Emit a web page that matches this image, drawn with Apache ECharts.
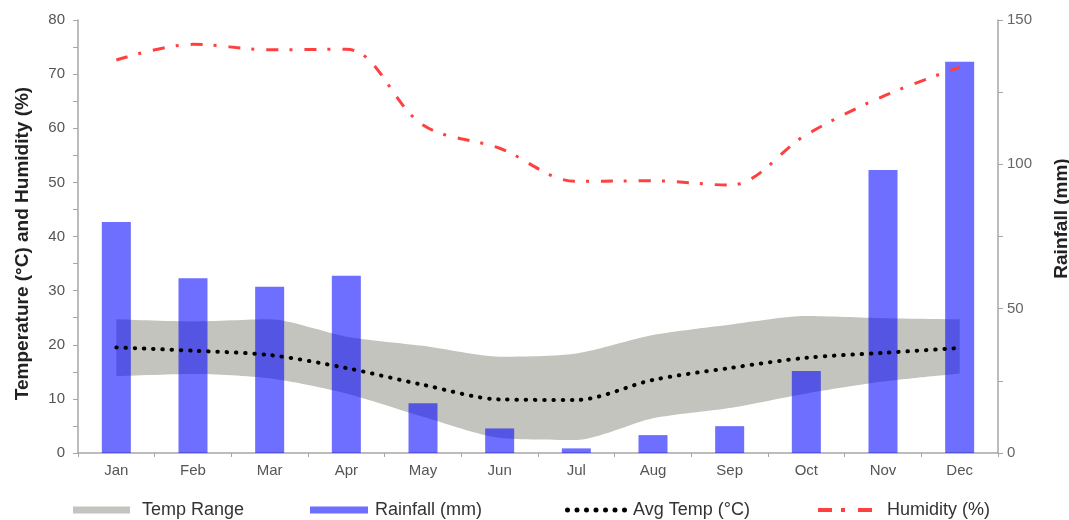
<!DOCTYPE html>
<html><head><meta charset="utf-8">
<script src="https://cdn.jsdelivr.net/npm/echarts@6/dist/echarts.min.js"></script>
<style>html,body{margin:0;padding:0;background:#fff}#c{width:1069px;height:520px}</style>
</head><body><div id="c"></div>
<script>
const months = ['Jan','Feb','Mar','Apr','May','Jun','Jul','Aug','Sep','Oct','Nov','Dec'];
const rainfall = [80, 60.5, 57.6, 61.4, 17.2, 8.5, 1.6, 6.2, 9.3, 28.4, 98, 135.5];
const tempMax = [24.7, 24.3, 24.7, 21.5, 19.8, 17.8, 18.4, 21.8, 23.7, 25.3, 24.9, 24.7];
const tempMin = [14.2, 14.6, 13.8, 11.0, 6.7, 2.8, 2.4, 6.4, 8.3, 11.0, 13.2, 14.7];
const avgTemp = [19.5, 18.9, 18.1, 15.7, 12.6, 9.9, 9.8, 13.5, 15.7, 17.6, 18.5, 19.4];
const humidity = [72.6, 75.5, 74.5, 74.6, 60.6, 56.3, 50.2, 50.3, 49.5, 58.8, 65.9, 71.3];

const tempSpan = tempMax.map((v, i) => +(v - tempMin[i]).toFixed(2));

const FONT = 'Liberation Sans, Arial, sans-serif';
const axisGray = '#a6a6a6';
const bandColor = '#c4c4be';
const barColor = 'rgba(5,5,255,0.58)';

// legend icons (dotted line, dash-dot line)
let dotPath = 'path://';
for (let k = 0; k < 7; k++) {
  const x = k * 9.5;
  dotPath += 'M' + x + ',2.5a2.5,2.5 0 1,0 5,0a2.5,2.5 0 1,0 -5,0Z ';
}
const dashDotPath = 'path://M0,0h14v4h-14Z M23,0h4v4h-4Z M40,0h14v4h-14Z';

const chart = echarts.init(document.getElementById('c'), null, {renderer: 'canvas'});

function legendAt(name, left, w, h, textPad, icon, extra) {
  return Object.assign({
    data: [name],
    left: left,
    top: 496,
    itemWidth: w,
    itemHeight: h,
    icon: icon,
    selectedMode: false,
    textStyle: {fontFamily: FONT, fontSize: 18, color: '#333', padding: [0, 0, 0, textPad]}
  }, extra || {});
}

chart.setOption({
  animation: false,
  backgroundColor: '#fff',
  grid: {left: 78, right: 71, top: 20, bottom: 67, containLabel: false, outerBoundsMode: 'none'},
  legend: [
    legendAt('Temp Range', 68, 57, 7, 7, 'rect', {itemStyle: {color: bandColor}}),
    legendAt('Rainfall (mm)', 305, 58, 7, 2, 'rect'),
    legendAt('Avg Temp (°C)', 560, 62, 5, 1, dotPath),
    legendAt('Humidity (%)', 813, 54, 4, 10, dashDotPath)
  ],
  xAxis: {
    type: 'category',
    data: months,
    boundaryGap: true,
    axisLine: {lineStyle: {color: axisGray, width: 1.5}},
    axisTick: {show: true, length: 4, lineStyle: {color: axisGray}},
    axisLabel: {fontFamily: FONT, fontSize: 15, color: '#555', margin: 10}
  },
  yAxis: [
    {
      type: 'value', min: 0, max: 80, interval: 10, position: 'left',
      name: 'Temperature (°C) and Humidity (%)',
      nameLocation: 'middle', nameGap: 46, nameRotate: 90,
      nameTextStyle: {fontFamily: FONT, fontSize: 19, fontWeight: 'bold', color: '#222', padding: [0, 14, 0, 0]},
      axisLine: {show: true, lineStyle: {color: axisGray, width: 1.5}},
      axisTick: {show: true, length: 5, lineStyle: {color: axisGray}},
      minorTick: {show: true, splitNumber: 2, length: 5, lineStyle: {color: axisGray}},
      splitLine: {show: false},
      axisLabel: {fontFamily: FONT, fontSize: 15, color: '#555', margin: 13}
    },
    {
      type: 'value', min: 0, max: 150, interval: 50, position: 'right',
      name: 'Rainfall (mm)',
      nameLocation: 'middle', nameGap: 54, nameRotate: 90,
      nameTextStyle: {fontFamily: FONT, fontSize: 19, fontWeight: 'bold', color: '#222', padding: [0, 0, 0, 36]},
      axisLine: {show: true, lineStyle: {color: axisGray, width: 1.5}},
      axisTick: {show: true, length: 5, lineStyle: {color: axisGray}},
      minorTick: {show: true, splitNumber: 2, length: 5, lineStyle: {color: axisGray}},
      splitLine: {show: false},
      axisLabel: {fontFamily: FONT, fontSize: 15, color: '#666', margin: 9}
    }
  ],
  series: [
    {
      name: 'tempMinBase', type: 'line', stack: 'temp', data: tempMin,
      symbol: 'none', smooth: 0.25, lineStyle: {opacity: 0}, silent: true, z: 1
    },
    {
      name: 'Temp Range', type: 'line', stack: 'temp', data: tempSpan,
      symbol: 'none', smooth: 0.25, color: bandColor,
      lineStyle: {opacity: 0}, areaStyle: {color: bandColor, opacity: 1}, z: 1
    },
    {
      name: 'Rainfall (mm)', type: 'bar', yAxisIndex: 1, data: rainfall,
      barWidth: 29, itemStyle: {color: barColor}, z: 2
    },
    {
      name: 'Avg Temp (°C)', type: 'line', data: avgTemp, symbol: 'none', smooth: 0.3,
      color: '#000',
      lineStyle: {color: '#000', width: 4, type: [0.5, 8.7], cap: 'round'}, z: 3
    },
    {
      name: 'Humidity (%)', type: 'line', data: humidity, symbol: 'none', smooth: 0.35,
      color: '#ff4040',
      lineStyle: {color: '#ff4040', width: 3, type: [12, 11, 3, 12]}, z: 3
    }
  ]
});
</script>
</body></html>
